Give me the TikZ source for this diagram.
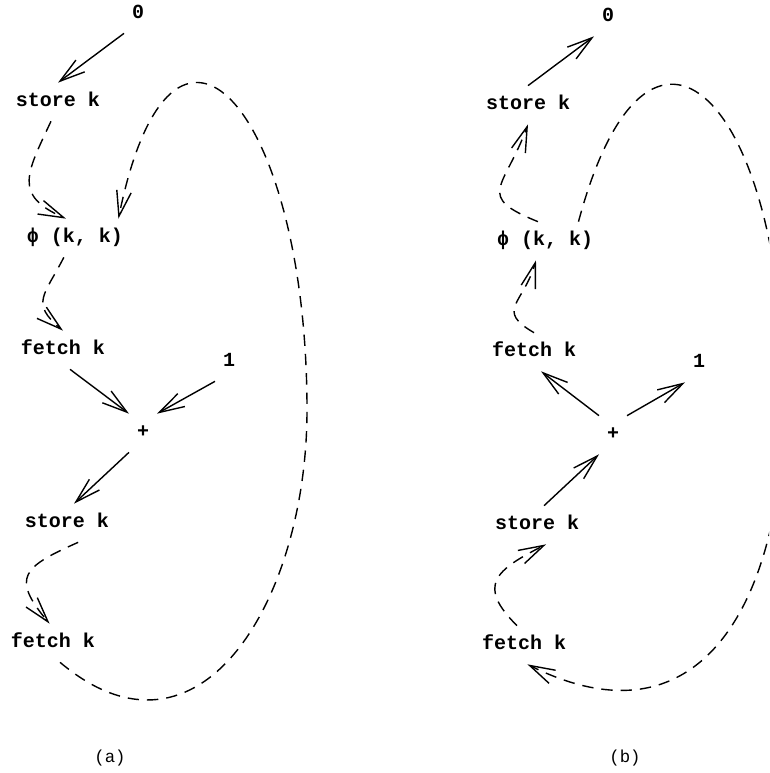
\documentclass[tikz,border=0pt]{standalone}
\usepackage{fontspec}
\setmonofont{Liberation Mono}
\usetikzlibrary{arrows.meta}

\begin{document}
\begin{tikzpicture}[x=0.75pt,y=0.75pt,
  lbl/.style={font=\ttfamily\bfseries\fontsize{15}{18}\selectfont,inner sep=1pt,outer sep=5pt,text height=12pt,text depth=5pt},
  panellbl/.style={font=\ttfamily\fontsize{13}{15}\selectfont},
  arr/.style={line width=1.05pt,-{Straight Barb[length=19pt,width=11pt,line width=1.05pt]}},
  dasharr/.style={arr,dash pattern=on 8.5pt off 6pt}]
\clip (0,0) rectangle (769,-773);

% (a)
\node[lbl] (za) at (138,-14) {0};
\node[lbl] (sa) at (58,-102) {store k};
\node[lbl] (pa) at (75,-238) {ϕ (k, k)};
\node[lbl] (fa) at (63,-350) {fetch k};
\node[lbl] (oa) at (229,-362) {1};
\node[lbl] (pla) at (143,-433) {+};
\node[lbl] (s2a) at (67,-523) {store k};
\node[lbl] (f2a) at (53,-643) {fetch k};
\node[panellbl] (capa) at (110,-758) {(a)};
\coordinate (loopa) at (307,-410);

\draw[arr] (za.south west) -- (sa.north);
\draw[dasharr] (sa.250) to[out=245,in=156,looseness=1.5] (pa.115);
\draw[dasharr] (f2a.290) .. controls +(140,-118) and +(0,-190) .. (loopa)
  .. controls +(0,300) and +(54,265) .. (pa.24);
\draw[dasharr] (pa.240) to[out=243,in=140,looseness=1.5] (fa.north);
\draw[arr] (fa.290) -- (pla.north west);
\draw[arr] (oa.south west) -- (pla.north east);
\draw[arr] (pla.south west) -- (s2a.70);
\draw[dasharr] (s2a.300) to[out=204,in=130,looseness=1.8] (f2a.100);

% (b)
\node[lbl] (zb) at (608,-17) {0};
\node[lbl] (sb) at (528,-105) {store k};
\node[lbl] (pb) at (545,-241) {ϕ (k, k)};
\node[lbl] (fb) at (534,-352) {fetch k};
\node[lbl] (ob) at (699,-363) {1};
\node[lbl] (plb) at (613,-435) {+};
\node[lbl] (s2b) at (537,-525) {store k};
\node[lbl] (f2b) at (524,-645) {fetch k};
\node[panellbl] (capb) at (625,-758) {(b)};
\coordinate (loopb) at (784,-400);

\draw[arr] (sb.north) -- (zb.south west);
\draw[dasharr] (pb.110) to[out=158,in=250,looseness=1.8] (sb.south);
\draw[dasharr] (pb.30) .. controls +(70,261) and +(0,300) .. (loopb)
  .. controls +(0,-190) and +(180,-90) .. (f2b.-80);
\draw[dasharr] (fb.north) to[out=150,in=254,looseness=1.6] (pb.245);
\draw[arr] (plb.north west) -- (fb.-70);
\draw[arr] (plb.north east) -- (ob.south west);
\draw[arr] (s2b.70) -- (plb.south west);
\draw[dasharr] (f2b.110) to[out=135,in=207,looseness=1.7] (s2b.-65);
\end{tikzpicture}
\end{document}
